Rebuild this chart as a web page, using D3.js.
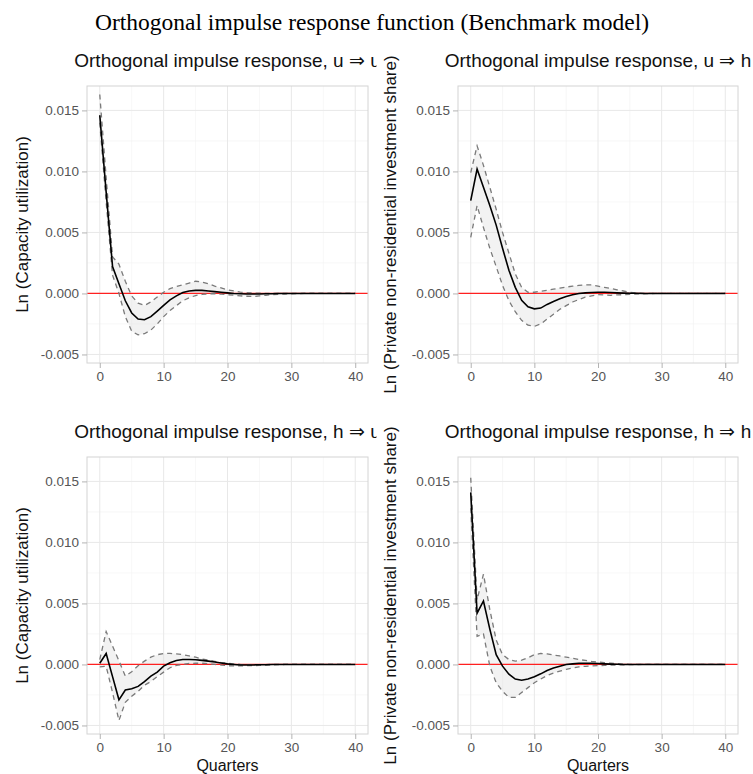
<!DOCTYPE html>
<html>
<head>
<meta charset="utf-8">
<script src="https://cdn.jsdelivr.net/npm/d3@7"></script>
<style>
  body { margin: 0; background: #fff; }
  svg { display: block; }
</style>
</head>
<body>
<svg id="chart" width="753" height="774"></svg>
<script>
const quarters = d3.range(0, 41);

// u -> u
const uuIrf = [0.0146, 0.0083, 0.0022, 0.0008, -0.0006, -0.0016, -0.0021, -0.00216, -0.0019, -0.00145,
  -0.00098, -0.00052, -0.0002, 0.00008, 0.0002, 0.00025, 0.00025, 0.0002, 0.00015, 0.0001,
  0.00005, 0, -0.00003, -0.00005, -0.00005, -0.00004, -0.00003, -0.00002, -0.00001, 0,
  0, 0, 0, 0, 0, 0, 0, 0, 0, 0, 0];
const uuLo = [0.0140, 0.0075, 0.0015, 0.0000, -0.0019, -0.0031, -0.0034, -0.0033, -0.0030, -0.0025,
  -0.0019, -0.0014, -0.0010, -0.0006, -0.00035, -0.00017, -0.00008, -0.00003, -0.00002, -0.00006,
  -0.0001, -0.00015, -0.0002, -0.00023, -0.00025, -0.0002, -0.00015, -0.0001, -0.00008, -0.00005,
  -0.00003, -0.00002, 0, 0, 0, 0, 0, 0, 0, 0, 0];
const uuHi = [0.0163, 0.0095, 0.0030, 0.0024, 0.0010, -0.0002, -0.0008, -0.00098, -0.0007, -0.0003,
  0.0001, 0.0004, 0.00057, 0.0007, 0.00085, 0.0010, 0.00093, 0.0008, 0.0006, 0.00045,
  0.0003, 0.0002, 0.0001, 0.00006, 0.00003, 0.00002, 0.00001, 0, 0, 0,
  0, 0, 0, 0, 0, 0, 0, 0, 0, 0, 0];

// u -> h
const uhIrf = [0.0076, 0.0102, 0.0087, 0.0072, 0.0056, 0.0037, 0.0019, 0.0005, -0.00057, -0.0011,
  -0.00126, -0.0012, -0.0009, -0.00066, -0.00044, -0.00025, -0.0001, 0, 0.00005, 0.00008,
  0.0001, 0.0001, 0.00008, 0.00005, 0.00003, 0.00002, 0.00001, 0, 0, 0,
  0, 0, 0, 0, 0, 0, 0, 0, 0, 0, 0];
const uhLo = [0.0046, 0.0072, 0.0054, 0.0037, 0.0022, 0.00066, -0.0006, -0.0015, -0.0022, -0.0026,
  -0.0027, -0.0025, -0.0021, -0.0017, -0.0013, -0.0010, -0.0007, -0.0005, -0.0003, -0.0002,
  -0.0001, -0.00012, -0.00015, -0.00012, -0.0001, -0.00007, -0.00005, -0.00003, -0.00001, 0,
  0, 0, 0, 0, 0, 0, 0, 0, 0, 0, 0];
const uhHi = [0.0099, 0.0121, 0.0105, 0.0087, 0.0069, 0.0050, 0.0033, 0.0016, 0.0005, 0.0001,
  0.0001, 0.00018, 0.00025, 0.00035, 0.00044, 0.00052, 0.0006, 0.00066, 0.0007, 0.0007,
  0.0006, 0.0005, 0.0004, 0.0003, 0.0002, 0.0001, 0.00005, 0.00002, 0, 0,
  0, 0, 0, 0, 0, 0, 0, 0, 0, 0, 0];

// h -> u
const huIrf = [0.0001, 0.0009, -0.0010, -0.0029, -0.0021, -0.0020, -0.0018, -0.0014, -0.00096, -0.00063,
  -0.00014, 0.00014, 0.00033, 0.0004, 0.0004, 0.00038, 0.00033, 0.00027, 0.0002, 0.00012,
  0.00005, 0, -0.00004, -0.00005, -0.00004, -0.00003, -0.00002, -0.00001, 0, 0,
  0, 0, 0, 0, 0, 0, 0, 0, 0, 0, 0];
const huLo = [-0.0002, -0.00015, -0.0023, -0.0046, -0.0031, -0.0026, -0.0022, -0.0017, -0.0014, -0.0010,
  -0.00063, -0.00027, -0.00008, 0, 0.00008, 0.0001, 0.0001, 0.00005, 0, -0.00005,
  -0.0001, -0.00012, -0.00012, -0.0001, -0.0001, -0.00007, -0.00005, -0.00003, -0.00001, 0,
  0, 0, 0, 0, 0, 0, 0, 0, 0, 0, 0];
const huHi = [0.0004, 0.0027, 0.0015, 0.0003, -0.00095, -0.0006, -0.0001, 0.00027, 0.0006, 0.0008,
  0.0009, 0.0009, 0.00087, 0.0008, 0.0007, 0.0006, 0.00045, 0.00035, 0.00025, 0.00015,
  0.0001, 0.00005, 0, -0.00002, -0.00003, -0.00002, -0.00001, 0, 0, 0,
  0, 0, 0, 0, 0, 0, 0, 0, 0, 0, 0];

// h -> h
const hhIrf = [0.0141, 0.0042, 0.0052, 0.0029, 0.0008, -0.00014, -0.0008, -0.0012, -0.0013, -0.0012,
  -0.0010, -0.00077, -0.0005, -0.0003, -0.00014, 0, 0.00005, 0.0001, 0.0001, 0.0001,
  0.00008, 0.00005, 0.00003, 0.00001, 0, 0, 0, 0, 0, 0,
  0, 0, 0, 0, 0, 0, 0, 0, 0, 0, 0];
const hhLo = [0.0128, 0.0023, 0.0025, -0.00014, -0.0015, -0.0022, -0.0027, -0.0027, -0.0023, -0.0019,
  -0.0015, -0.0012, -0.0009, -0.0007, -0.00055, -0.0004, -0.0003, -0.0002, -0.00015, -0.00012,
  -0.0001, -0.00008, -0.00006, -0.00005, -0.00003, -0.00002, -0.00001, 0, 0, 0,
  0, 0, 0, 0, 0, 0, 0, 0, 0, 0, 0];
const hhHi = [0.0153, 0.0053, 0.0074, 0.0045, 0.0020, 0.0008, 0.0004, 0.00027, 0.00035, 0.00055,
  0.0008, 0.0009, 0.00087, 0.00077, 0.0007, 0.0006, 0.0005, 0.0004, 0.00033, 0.00025,
  0.0002, 0.00015, 0.0001, 0.00006, 0.00003, 0.00001, 0, 0, 0, 0,
  0, 0, 0, 0, 0, 0, 0, 0, 0, 0, 0];

const majorX = [0, 10, 20, 30, 40];
const minorX = [5, 15, 25, 35];
const majorY = [-0.005, 0, 0.005, 0.010, 0.015];
const minorY = [-0.0025, 0.0025, 0.0075, 0.0125];

const mainTitle = 'Orthogonal impulse response function (Benchmark model)';
const uLabel = 'Ln (Capacity utilization)';
const hLabel = 'Ln (Private non-residential investment share)';

const panels = [
  { title: 'Orthogonal impulse response, u \u21D2 u', ylab: uLabel, irf: uuIrf, lo: uuLo, hi: uuHi,
    cell: [0, 40, 376.5, 360], plot: [87, 86, 368, 363], ylabX: 27.5, xlab: false },
  { title: 'Orthogonal impulse response, u \u21D2 h', ylab: hLabel, irf: uhIrf, lo: uhLo, hi: uhHi,
    cell: [376.5, 40, 376.5, 360], plot: [458, 86, 738, 363], ylabX: 396, xlab: false },
  { title: 'Orthogonal impulse response, h \u21D2 u', ylab: uLabel, irf: huIrf, lo: huLo, hi: huHi,
    cell: [0, 400, 376.5, 374], plot: [87, 457, 368, 734], ylabX: 27.5, xlab: true },
  { title: 'Orthogonal impulse response, h \u21D2 h', ylab: hLabel, irf: hhIrf, lo: hhLo, hi: hhHi,
    cell: [376.5, 400, 376.5, 374], plot: [458, 457, 738, 734], ylabX: 396, xlab: true },
];

const svg = d3.select('#chart');
const sans = 'Liberation Sans, Arial, Helvetica, sans-serif';

svg.append('rect').attr('width', 753).attr('height', 774).attr('fill', '#fff');

panels.forEach((p) => {
  const [x0, y0, x1, y1] = p.plot;
  const g = svg.append('g');

  // cell background hides overflow of the previous cell
  g.append('rect')
    .attr('x', p.cell[0]).attr('y', p.cell[1])
    .attr('width', p.cell[2]).attr('height', p.cell[3])
    .attr('fill', '#fff');

  const x = d3.scaleLinear().domain([-2, 42]).range([x0, x1]);
  const y = d3.scaleLinear().domain([-0.0057, 0.0170]).range([y1, y0]);

  // grid
  g.selectAll('.minx').data(minorX).enter().append('line')
    .attr('x1', (d) => x(d)).attr('x2', (d) => x(d))
    .attr('y1', y0).attr('y2', y1)
    .attr('stroke', '#f3f3f3').attr('stroke-width', 0.7);
  g.selectAll('.miny').data(minorY).enter().append('line')
    .attr('y1', (d) => y(d)).attr('y2', (d) => y(d))
    .attr('x1', x0).attr('x2', x1)
    .attr('stroke', '#f3f3f3').attr('stroke-width', 0.7);
  g.selectAll('.majx').data(majorX).enter().append('line')
    .attr('x1', (d) => x(d)).attr('x2', (d) => x(d))
    .attr('y1', y0).attr('y2', y1)
    .attr('stroke', '#e8e8e8').attr('stroke-width', 1);
  g.selectAll('.majy').data(majorY).enter().append('line')
    .attr('y1', (d) => y(d)).attr('y2', (d) => y(d))
    .attr('x1', x0).attr('x2', x1)
    .attr('stroke', '#e8e8e8').attr('stroke-width', 1);

  // confidence band
  const area = d3.area()
    .x((d, i) => x(quarters[i]))
    .y0((d, i) => y(p.lo[i]))
    .y1((d, i) => y(p.hi[i]));
  g.append('path')
    .datum(quarters)
    .attr('d', area)
    .attr('fill', '#d9d9d9')
    .attr('fill-opacity', 0.35);

  // zero line
  g.append('line')
    .attr('x1', x0).attr('x2', x1)
    .attr('y1', y(0)).attr('y2', y(0))
    .attr('stroke', '#ff2020').attr('stroke-width', 1.3);

  const line = (vals) => d3.line()
    .x((d, i) => x(quarters[i]))
    .y((d) => y(d))(vals);

  [p.lo, p.hi].forEach((band) => {
    g.append('path')
      .attr('d', line(band))
      .attr('fill', 'none')
      .attr('stroke', '#7a7a7a')
      .attr('stroke-width', 1.3)
      .attr('stroke-dasharray', '5,4');
  });

  g.append('path')
    .attr('d', line(p.irf))
    .attr('fill', 'none')
    .attr('stroke', '#000')
    .attr('stroke-width', 1.6);

  // panel border
  g.append('rect')
    .attr('x', x0).attr('y', y0)
    .attr('width', x1 - x0).attr('height', y1 - y0)
    .attr('fill', 'none')
    .attr('stroke', '#d4d4d4');

  // axes
  const yAxis = d3.axisLeft(y).tickValues(majorY).tickSize(5).tickPadding(3)
    .tickFormat((d) => d.toFixed(3));
  const ya = g.append('g').attr('transform', `translate(${x0},0)`).call(yAxis);
  const xAxis = d3.axisBottom(x).tickValues(majorX).tickSize(5).tickPadding(3);
  const xa = g.append('g').attr('transform', `translate(0,${y1})`).call(xAxis);
  [ya, xa].forEach((a) => {
    a.select('.domain').remove();
    a.selectAll('.tick line').attr('stroke', '#b3b3b3');
    a.selectAll('.tick text')
      .attr('fill', '#555')
      .attr('font-family', sans)
      .attr('font-size', 13.5);
  });

  // titles
  g.append('text')
    .attr('x', (x0 + x1) / 2)
    .attr('y', y0 - 19)
    .attr('text-anchor', 'middle')
    .attr('font-family', sans)
    .attr('font-size', 19)
    .attr('fill', '#111')
    .text(p.title);

  g.append('text')
    .attr('transform', `translate(${p.ylabX},${(y0 + y1) / 2}) rotate(-90)`)
    .attr('text-anchor', 'middle')
    .attr('font-family', sans)
    .attr('font-size', 17)
    .attr('fill', '#111')
    .text(p.ylab);

  if (p.xlab) {
    g.append('text')
      .attr('x', (x0 + x1) / 2)
      .attr('y', y1 + 36.5)
      .attr('text-anchor', 'middle')
      .attr('font-family', sans)
      .attr('font-size', 16)
      .attr('fill', '#111')
      .text('Quarters');
  }
});

svg.append('text')
  .attr('x', 372)
  .attr('y', 30)
  .attr('text-anchor', 'middle')
  .attr('font-family', 'Liberation Serif, Times New Roman, serif')
  .attr('font-size', 23.5)
  .attr('fill', '#000')
  .text(mainTitle);
</script>
</body>
</html>
